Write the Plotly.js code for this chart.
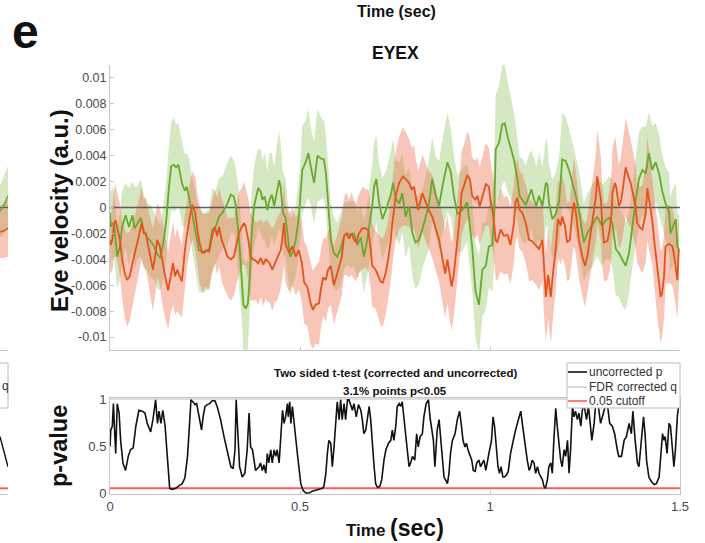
<!DOCTYPE html>
<html><head><meta charset="utf-8">
<script src="https://cdn.plot.ly/plotly-3.0.1.min.js"></script>
<style>html,body{margin:0;padding:0;background:#fff}#chart{width:705px;height:543px}</style>
</head><body><div id="chart"></div>
<script>
// ---------- DATA (velocity values in thousandths of a.u.) ----------
const greenTime = [
0.000,0.002,0.006,0.011,0.019,0.026,0.032,0.041,0.050,0.059,
0.065,0.072,0.081,0.089,0.098,0.107,0.116,0.124,0.133,0.142,
0.148,0.155,0.161,0.168,0.174,0.180,0.186,0.190,0.197,0.202,
0.208,0.215,0.221,0.228,0.234,0.247,0.261,0.269,0.278,0.287,
0.296,0.309,0.318,0.326,0.331,0.339,0.347,0.351,0.357,0.363,
0.368,0.373,0.379,0.385,0.390,0.397,0.401,0.407,0.414,0.420,
0.426,0.432,0.438,0.445,0.449,0.455,0.462,0.468,0.474,0.480,
0.489,0.497,0.502,0.506,0.515,0.522,0.528,0.537,0.546,0.554,
0.563,0.568,0.574,0.581,0.589,0.598,0.607,0.616,0.624,0.633,
0.642,0.651,0.660,0.668,0.674,0.682,0.690,0.695,0.701,0.708,
0.717,0.726,0.739,0.745,0.752,0.761,0.769,0.778,0.787,0.796,
0.804,0.813,0.822,0.831,0.839,0.848,0.857,0.866,0.874,0.888,
0.897,0.905,0.914,0.927,0.940,0.953,0.962,0.971,0.980,0.989,
0.997,1.006,1.011,1.015,1.024,1.032,1.039,1.046,1.054,1.063,
1.072,1.078,1.085,1.094,1.103,1.109,1.116,1.122,1.129,1.138,
1.147,1.151,1.155,1.164,1.173,1.182,1.190,1.199,1.208,1.217,
1.226,1.234,1.247,1.256,1.269,1.282,1.295,1.304,1.313,1.322,
1.331,1.339,1.348,1.357,1.366,1.374,1.383,1.392,1.401,1.410,
1.418,1.427,1.436,1.445,1.453,1.462,1.471,1.475,1.480,1.489,
1.493,1.497];
const greenMean = [
-0.4,-1.5,-1.2,-1.4,-3.8,-3.0,-1.5,-0.6,-1.5,-0.6,
-1.6,-1.2,-0.8,-1.8,-2.3,-2.6,-3.0,-3.6,-3.9,-2.4,
-1.0,1.5,3.2,3.3,3.1,3.3,2.4,1.8,1.3,1.6,
0.8,-0.3,-1.2,-2.4,-3.3,-3.5,-3.2,-1.7,-1.5,-0.7,
-0.4,0.3,1.0,0.85,0.1,-2.2,-5.3,-7.5,-7.8,-7.4,
-5.3,-2.0,0.1,0.85,1.5,1.2,0.6,0.85,-0.2,0.6,
1.0,0.1,1.1,2.1,1.6,-0.4,-0.8,-2.5,-3.8,-3.5,
-2.5,-0.7,1.0,2.9,3.5,4.2,3.2,1.9,4.0,3.8,
3.7,2.7,0.4,-2.5,-3.5,-3.8,-3.2,-2.2,-2.0,-2.1,
-2.0,-2.9,-2.3,-3.8,-3.0,-1.4,0.1,1.6,2.2,0.4,
-0.9,-0.2,1.0,1.9,0.7,0.3,1.1,-0.7,0.1,-2.0,
-2.7,-2.5,-1.7,-0.7,0.2,2.2,0.9,0.1,1.5,3.5,
2.7,0.9,-0.5,-0.2,0.4,-3.0,-6.5,-7.5,-4.8,-4.5,
-3.0,-2.9,-0.5,4.5,5.0,6.4,6.5,5.5,4.7,3.7,
2.2,0.9,0.6,0.2,0.9,1.4,0.6,0.1,0.9,0.1,
1.9,1.8,0.4,-0.9,-0.5,0.5,3.7,3.6,2.9,1.9,
0.9,-0.3,-2.7,-2.0,-1.4,-0.7,-1.4,-1.0,-0.8,-1.2,
-3.2,-3.5,-4.0,-4.5,-3.5,-1.5,0.5,2.2,2.9,2.6,
4.2,2.9,3.5,2.6,1.3,0.3,-0.3,-2.0,-1.6,-0.9,
-3.0,-3.2];
const greenSem = [
2.4,2.6,2.8,2.6,2.4,2.6,2.8,2.5,3.0,2.6,
3.2,2.8,3.0,2.8,2.6,2.8,2.6,2.7,2.5,2.9,
3.0,3.2,3.4,3.6,3.3,3.2,3.0,3.2,2.8,2.6,
3.0,2.8,3.0,2.9,3.2,3.1,3.0,3.2,2.8,3.0,
2.8,3.2,3.0,2.8,3.0,3.3,3.4,3.6,3.5,3.4,
3.3,3.2,3.0,3.2,3.0,3.3,3.0,3.4,3.0,3.6,
3.2,3.0,3.5,3.8,3.4,3.2,3.0,2.8,3.0,2.8,
2.7,2.8,3.0,3.4,3.2,3.4,3.0,3.2,3.6,3.2,
3.0,3.0,2.9,2.8,2.8,2.6,2.8,2.6,2.4,2.6,
2.5,2.6,2.5,2.8,2.7,3.0,3.2,3.5,3.4,3.0,
3.2,3.0,3.3,3.4,3.0,3.2,3.0,3.2,3.0,3.4,
3.6,3.4,3.0,3.2,3.4,3.2,3.0,3.5,3.6,3.8,
3.4,3.2,3.0,3.2,3.0,3.4,3.6,3.8,3.6,3.4,
3.2,3.6,4.0,4.2,4.4,4.6,4.5,4.3,4.0,3.6,
3.2,3.0,3.2,3.0,3.2,3.0,3.2,3.0,3.4,3.0,
3.4,3.2,3.0,3.0,3.2,3.4,3.6,3.4,3.2,3.0,
3.0,3.2,3.0,3.0,3.2,3.0,3.2,3.0,3.2,3.4,
3.6,3.4,3.6,3.4,3.2,3.2,3.4,3.6,3.4,3.6,
3.2,3.4,3.0,3.0,2.8,2.8,3.0,2.8,3.0,2.8,
2.6,2.6];

const orangeTime = [
0.000,0.002,0.006,0.011,0.015,0.019,0.026,0.032,0.039,0.045,
0.052,0.059,0.068,0.076,0.083,0.089,0.094,0.101,0.107,0.113,
0.120,0.124,0.131,0.138,0.147,0.153,0.160,0.166,0.171,0.177,
0.182,0.189,0.193,0.197,0.203,0.210,0.217,0.224,0.230,0.236,
0.243,0.252,0.261,0.269,0.276,0.282,0.287,0.294,0.300,0.309,
0.318,0.326,0.332,0.339,0.347,0.353,0.357,0.364,0.370,0.376,
0.383,0.390,0.397,0.403,0.410,0.414,0.420,0.427,0.434,0.440,
0.449,0.453,0.458,0.462,0.471,0.480,0.489,0.497,0.505,0.511,
0.519,0.528,0.534,0.541,0.550,0.555,0.561,0.568,0.574,0.581,
0.589,0.596,0.603,0.610,0.616,0.622,0.629,0.636,0.642,0.648,
0.655,0.664,0.673,0.680,0.686,0.690,0.699,0.706,0.712,0.718,
0.726,0.732,0.739,0.743,0.747,0.752,0.761,0.771,0.778,0.787,
0.794,0.800,0.804,0.811,0.822,0.831,0.839,0.848,0.857,0.866,
0.874,0.882,0.888,0.894,0.899,0.905,0.910,0.916,0.923,0.925,
0.934,0.940,0.947,0.953,0.961,0.967,0.973,0.980,0.989,0.997,
1.002,1.008,1.011,1.015,1.019,1.028,1.037,1.046,1.054,1.063,
1.067,1.072,1.078,1.085,1.094,1.103,1.111,1.120,1.129,1.138,
1.142,1.147,1.153,1.160,1.166,1.173,1.179,1.186,1.190,1.197,
1.203,1.210,1.217,1.221,1.226,1.234,1.243,1.250,1.256,1.265,
1.274,1.279,1.282,1.287,1.292,1.295,1.300,1.309,1.315,1.320,
1.322,1.329,1.332,1.339,1.344,1.348,1.357,1.364,1.370,1.376,
1.383,1.387,1.396,1.401,1.410,1.414,1.423,1.427,1.432,1.440,
1.449,1.453,1.458,1.462,1.471,1.480,1.485,1.493,1.497];
const orangeMean = [
-2.5,-2.9,-2.5,-1.2,-1.0,-1.5,-2.5,-4.0,-5.1,-5.6,
-5.3,-4.3,-3.3,-2.2,-1.2,-2.0,-2.0,-3.0,-4.0,-4.8,
-3.5,-2.5,-3.0,-4.3,-5.6,-6.4,-5.1,-4.3,-5.3,-4.8,
-5.2,-5.7,-4.6,-3.3,-2.0,-0.7,0.2,-0.4,-1.7,-2.8,
-3.5,-3.3,-3.4,-2.2,-1.5,-2.2,-1.5,-2.5,-3.0,-3.8,
-4.0,-3.8,-3.0,-2.0,-1.5,-1.2,-1.5,-2.5,-3.8,-4.0,
-4.1,-4.3,-3.9,-4.4,-4.0,-4.1,-4.3,-4.8,-4.3,-4.0,
-3.3,-2.5,-1.2,-2.8,-3.5,-3.0,-3.8,-3.3,-4.3,-5.8,
-6.1,-7.4,-7.9,-7.5,-7.4,-6.3,-5.4,-5.6,-4.8,-4.5,
-6.0,-5.3,-4.5,-3.8,-2.2,-2.0,-2.4,-2.0,-2.5,-2.7,
-2.0,-1.6,-1.6,-1.8,-3.2,-4.5,-4.8,-5.3,-5.7,-5.8,
-5.0,-4.0,-2.5,-1.2,-0.2,0.9,1.9,2.4,2.2,1.9,
1.4,1.6,0.9,-0.2,1.1,0.4,-0.2,-0.7,-1.7,-2.5,
-3.8,-5.1,-4.0,-5.3,-6.1,-5.1,-3.8,-2.0,0.1,1.1,
1.9,2.5,2.2,0.9,0.6,0.9,0.1,0.9,1.8,1.6,
0.4,-0.5,-1.2,-2.5,-2.7,-1.7,-2.2,-2.1,-2.9,-1.2,
0.4,0.75,-0.2,-0.4,-1.2,-2.5,-2.6,-2.9,-3.2,-2.5,
-4.8,-6.9,-5.2,-6.9,-5.0,-3.2,-0.9,-1.4,-0.7,-1.4,
-2.7,-2.5,-0.4,0.4,-0.4,-2.5,-3.8,-4.5,-3.8,-2.0,
-0.2,0.9,2.4,1.6,0.6,-1.2,-2.7,-2.6,-1.7,-0.4,
1.1,1.9,1.6,0.1,0.4,1.1,3.1,2.4,1.9,1.1,
0.1,-1.2,-1.6,-1.7,-0.4,1.5,-0.3,-1.0,-2.5,-4.8,
-6.9,-6.6,-5.3,-3.0,-2.8,-3.0,-3.8,-5.6,-3.2];
const orangeSem = [
2.2,2.2,2.4,2.6,2.8,2.6,2.8,3.0,3.4,3.6,
3.4,3.2,3.0,2.8,2.8,2.6,2.8,2.8,3.0,3.2,
3.0,2.8,3.0,3.2,3.2,3.0,3.0,3.2,3.0,3.2,
3.0,2.8,2.8,2.8,2.6,2.6,2.6,2.8,2.8,3.0,
3.0,2.8,3.0,2.8,2.8,3.0,3.0,3.2,3.2,3.0,
3.2,3.0,3.0,3.2,3.0,3.2,3.0,3.2,3.4,3.2,
3.0,3.2,3.0,3.2,3.0,3.2,3.0,3.2,3.0,3.2,
3.0,3.0,3.2,3.0,3.0,3.0,3.0,3.0,3.0,3.2,
3.0,3.2,3.0,3.0,3.2,3.0,3.0,3.2,3.0,3.0,
3.0,3.0,3.0,3.0,3.0,3.2,3.0,3.2,3.0,3.0,
3.0,3.2,3.0,3.2,3.0,3.2,3.0,3.2,3.4,3.4,
3.2,3.0,3.2,3.2,3.4,3.4,3.6,3.8,3.6,3.4,
3.2,3.2,3.0,3.0,3.0,3.0,3.0,3.2,3.2,3.2,
3.4,3.4,3.4,3.4,3.4,3.2,3.2,3.2,3.2,3.2,
3.2,3.4,3.2,3.0,3.0,3.0,3.0,3.0,3.2,3.0,
3.0,3.0,3.0,3.0,3.0,3.2,3.0,3.0,3.0,3.0,
3.0,3.0,3.0,3.0,3.0,3.2,3.0,3.0,3.2,3.2,
3.4,3.4,3.4,3.6,3.4,3.2,3.0,3.0,3.2,3.0,
3.0,3.0,3.2,3.4,3.2,3.0,3.0,3.2,3.0,3.0,
3.2,3.4,3.6,3.4,3.2,3.0,3.0,3.0,3.2,3.2,
3.4,3.6,3.4,3.2,3.4,3.6,3.8,3.6,3.4,3.2,
3.2,3.0,3.2,3.4,3.8,4.0,3.6,3.4,3.4,3.6,
3.6,3.4,3.2,3.0,3.0,3.0,3.0,3.0,3.0];

const pTime = [
0.000,0.002,0.006,0.009,0.012,0.015,0.019,0.024,0.028,0.034,
0.041,0.048,0.054,0.061,0.068,0.076,0.085,0.092,0.098,0.107,
0.113,0.120,0.125,0.129,0.134,0.139,0.145,0.149,0.154,0.157,
0.164,0.173,0.182,0.190,0.197,0.204,0.210,0.213,0.218,0.224,
0.228,0.232,0.236,0.241,0.245,0.250,0.256,0.262,0.269,0.276,
0.282,0.291,0.300,0.309,0.318,0.324,0.329,0.332,0.337,0.341,
0.348,0.355,0.361,0.366,0.370,0.375,0.379,0.383,0.392,0.396,
0.401,0.405,0.410,0.414,0.418,0.423,0.427,0.432,0.436,0.440,
0.445,0.449,0.454,0.458,0.462,0.467,0.469,0.473,0.476,0.480,
0.484,0.489,0.493,0.497,0.502,0.508,0.515,0.524,0.532,0.541,
0.550,0.559,0.563,0.568,0.572,0.576,0.581,0.585,0.589,0.594,
0.598,0.603,0.607,0.611,0.616,0.620,0.625,
0.629,0.638,0.642,0.648,0.654,0.660,0.664,0.668,0.673,0.677,
0.682,0.686,0.690,0.695,0.699,0.704,0.710,0.715,0.721,0.726,
0.733,0.739,0.743,0.747,0.752,0.756,0.761,0.765,0.769,0.774,
0.778,0.782,0.787,0.791,0.796,0.802,0.807,0.811,0.816,0.822,
0.826,0.832,0.838,0.842,0.846,0.851,0.855,0.861,0.866,0.870,
0.875,0.879,0.883,0.888,0.892,0.896,0.901,0.908,0.914,0.920,
0.925,0.929,0.934,0.938,0.942,0.946,0.952,0.956,0.961,0.965,
0.971,0.975,0.980,0.984,0.989,0.993,0.997,1.004,1.008,1.012,
1.017,1.021,1.025,1.029,1.034,1.038,1.043,1.048,1.054,1.059,
1.065,1.072,1.076,1.081,1.085,1.089,1.094,1.098,1.103,1.107,
1.111,1.116,1.120,1.125,1.129,1.133,1.138,1.142,1.146,1.151,
1.155,1.160,1.164,1.168,1.173,1.177,1.182,1.186,1.190,1.195,
1.199,1.204,1.208,1.212,1.217,1.221,1.225,1.230,1.234,1.239,
1.243,1.247,1.254,1.259,1.262,1.268,1.274,1.278,1.283,1.287,
1.291,1.297,1.303,1.309,1.315,1.322,1.328,1.335,1.339,1.346,
1.353,1.359,1.366,1.372,1.376,1.382,1.388,1.392,1.399,1.404,
1.408,1.412,1.418,1.425,1.432,1.438,1.445,1.449,1.454,1.458,
1.461,1.466,1.471,1.475,1.478,1.481,1.484,1.488,1.493,1.497];
const pValue = [
0.49,0.67,0.71,0.95,0.67,0.42,0.95,0.85,0.56,0.32,
0.24,0.39,0.46,0.48,0.71,0.88,0.87,0.85,0.74,0.65,
0.78,0.99,0.74,0.87,0.74,0.88,0.71,0.49,0.14,0.05,
0.04,0.05,0.08,0.10,0.16,0.39,0.78,0.99,0.97,0.94,
0.95,0.87,0.81,0.67,0.81,0.92,0.94,0.95,0.98,0.98,
0.92,0.78,0.60,0.42,0.28,0.26,0.46,0.99,0.49,0.28,
0.17,0.21,0.46,0.85,0.49,0.46,0.35,0.24,0.28,0.32,
0.24,0.30,0.21,0.42,0.32,0.46,0.32,0.46,0.39,0.46,
0.32,0.56,0.88,0.74,0.81,0.95,0.81,0.97,0.74,0.92,
0.74,0.60,0.42,0.28,0.10,0.03,0.00,0.00,0.02,0.03,
0.04,0.05,0.07,0.21,0.42,0.56,0.53,0.28,0.46,0.74,
0.97,0.78,0.99,0.78,0.95,0.78,0.99,
0.99,0.88,0.95,0.81,0.94,0.88,0.78,0.63,0.67,0.78,
0.92,0.78,0.53,0.28,0.10,0.06,0.07,0.14,0.35,0.46,
0.53,0.56,0.67,0.56,0.71,0.92,0.95,0.92,0.97,0.78,
0.60,0.42,0.28,0.32,0.39,0.35,0.63,0.49,0.60,0.63,
0.81,0.95,0.99,0.81,0.67,0.56,0.28,0.67,0.78,0.60,
0.35,0.17,0.14,0.10,0.21,0.42,0.56,0.63,0.78,0.87,
0.71,0.56,0.49,0.53,0.46,0.42,0.35,0.24,0.23,0.32,
0.35,0.28,0.32,0.35,0.24,0.35,0.42,0.56,0.81,0.71,
0.46,0.28,0.21,0.28,0.17,0.17,0.19,0.23,0.42,0.53,
0.63,0.74,0.81,0.87,0.74,0.60,0.46,0.35,0.24,0.28,
0.35,0.32,0.21,0.28,0.21,0.17,0.14,0.07,0.05,0.14,
0.28,0.32,0.21,0.56,0.90,0.71,0.49,0.35,0.28,0.46,
0.39,0.56,0.21,0.46,0.92,0.81,0.87,0.78,0.85,0.71,
0.88,0.95,0.78,0.92,0.81,0.56,0.74,0.94,0.99,0.87,
0.74,0.83,0.92,0.94,0.74,0.71,0.63,0.46,0.39,0.39,
0.56,0.60,0.74,0.63,0.87,0.56,0.32,0.28,0.56,0.81,
0.63,0.35,0.17,0.12,0.09,0.10,0.17,0.39,0.63,0.56,
0.60,0.42,0.74,0.71,0.56,0.49,0.28,0.46,0.81,0.95];

const refTime = [0, 1.5];
const zeroLevel = [0, 0];
const fdrQ = [1, 1];
const cutoff = [0.05, 0.05];

// sliver of the neighbouring panel (cropped at the left edge)
const edgeTime = [1.46, 1.48, 1.5];
const edgeGreenMean = [-0.3, 0.2, 0.9];
const edgeGreenSem = [2.0, 2.2, 2.3];
const edgeOrangeMean = [-1.9, -1.8, -1.6];
const edgeOrangeSem = [2.0, 2.1, 2.2];
const edgeP = [0.6, 0.44, 0.28];
const edgeRefTime = [1.46, 1.5];

const velocityTicks = [0.01,0.008,0.006,0.004,0.002,0,-0.002,-0.004,-0.006,-0.008,-0.01];
const velocityTickText = ['0.01','0.008','0.006','0.004','0.002','0','-0.002','-0.004','-0.006','-0.008','-0.01'];
const timeTicks = [0, 0.5, 1, 1.5];
const timeTickText = ['0','0.5','1','1.5'];
const pTicks = [0, 0.5, 1];
const pTickText = ['0','0.5','1'];
const legendLabels = ['uncorrected p','FDR corrected q','0.05 cutoff'];

// ---------- DRAWING ----------
const W = 705, H = 543;
const fx = p => p / W, fy = p => 1 - p / H;
const FONT = 'Liberation Sans, Arial, Helvetica, sans-serif';
const MILLI = 0.001;
const GREEN = '#6aa82e', GREEN_FILL = 'rgba(125,185,70,0.33)';
const ORANGE = '#e5531c', ORANGE_FILL = 'rgba(236,112,78,0.40)';
const AXIS = '#c6c6c6', TICKFONT = '#4a4a4a';

function band(t, m, s, xa, ya, fill) {
  const up = m.map((v, i) => (v + s[i]) * MILLI);
  const lo = m.map((v, i) => (v - s[i]) * MILLI);
  return {x: t.concat(t.slice().reverse()), y: up.concat(lo.slice().reverse()),
    xaxis: xa, yaxis: ya, type: 'scatter', mode: 'lines', fill: 'toself',
    fillcolor: fill, line: {width: 0}, hoverinfo: 'skip', showlegend: false};
}
function line(t, v, xa, ya, color, width, scale) {
  return {x: t, y: v.map(d => d * (scale || 1)), xaxis: xa, yaxis: ya, type: 'scatter',
    mode: 'lines', line: {color: color, width: width}, hoverinfo: 'skip', showlegend: false};
}

const traces = [
  band(greenTime, greenMean, greenSem, 'x', 'y', GREEN_FILL),
  band(orangeTime, orangeMean, orangeSem, 'x', 'y', ORANGE_FILL),
  line(refTime, zeroLevel, 'x', 'y', 'rgba(70,70,70,0.85)', 1.3),
  line(greenTime, greenMean, 'x', 'y', GREEN, 1.8, MILLI),
  line(orangeTime, orangeMean, 'x', 'y', ORANGE, 1.8, MILLI),

  line(refTime, fdrQ, 'x2', 'y2', '#d2d2d2', 1.5),
  line(refTime, cutoff, 'x2', 'y2', '#ff5c5c', 2),
  line(pTime, pValue, 'x2', 'y2', '#111111', 1.6),

  band(edgeTime, edgeGreenMean, edgeGreenSem, 'x3', 'y3', GREEN_FILL),
  band(edgeTime, edgeOrangeMean, edgeOrangeSem, 'x3', 'y3', ORANGE_FILL),
  line(edgeRefTime, zeroLevel, 'x3', 'y3', 'rgba(70,70,70,0.85)', 1.3),
  line(edgeTime, edgeGreenMean, 'x3', 'y3', GREEN, 1.6, MILLI),
  line(edgeTime, edgeOrangeMean, 'x3', 'y3', ORANGE, 1.6, MILLI),
  line(edgeRefTime, cutoff, 'x4', 'y4', '#ff5c5c', 2),
  line(edgeTime, edgeP, 'x4', 'y4', '#111111', 1.4)
];

const topDomain = [fy(350), fy(65)], botDomain = [fy(494), fy(398)];
const axBase = {showgrid: false, zeroline: false, linecolor: AXIS, linewidth: 1,
  tickcolor: AXIS, ticks: 'inside', ticklen: 4, tickfont: {family: FONT, size: 12.5, color: TICKFONT}};

const legendRows = [372, 387, 401];
const legendColors = ['#111111', '#d2d2d2', '#ff5c5c'];

const shapes = [
  {type: 'rect', xref: 'paper', yref: 'paper', x0: fx(567), x1: fx(680), y0: fy(408), y1: fy(363),
   line: {color: '#bdbdbd', width: 1}, fillcolor: '#ffffff', layer: 'above'},
  {type: 'rect', xref: 'paper', yref: 'paper', x0: fx(-30), x1: fx(8), y0: fy(408), y1: fy(363),
   line: {color: '#bdbdbd', width: 1}, fillcolor: '#ffffff', layer: 'above'}
].concat(legendRows.map((r, i) => ({type: 'line', xref: 'paper', yref: 'paper',
   x0: fx(568), x1: fx(587), y0: fy(r), y1: fy(r), line: {color: legendColors[i], width: 1.6}, layer: 'above'})));

const ann = (text, x, y, size, extra) => Object.assign({text: text, x: x, y: y, xref: 'paper', yref: 'paper',
  showarrow: false, font: {family: FONT, size: size, color: '#111'}, xanchor: 'center', yanchor: 'middle'}, extra || {});

const annotations = [
  ann('<b>e</b>', fx(25), fy(32), 48),
  ann('<b>Time (sec)</b>', fx(396), fy(1), 16, {yanchor: 'top'}),
  ann('<b>EYEX</b>', fx(395), fy(53), 17.5),
  ann('<b>Eye velocity (a.u.)</b>', fx(59), fy(211), 24, {textangle: -90}),
  ann('<b>p-value</b>', fx(59), fy(446), 23.5, {textangle: -90}),
  ann('<b>Two sided t-test (corrected and uncorrected)</b>', fx(395), fy(373), 11.5),
  ann('<b>3.1% points p&lt;0.05</b>', fx(395), fy(391), 11.5),
  ann('<b>Time <span style="font-size:23px">(sec)</span></b>', fx(395), fy(528), 17),
  ann('q', fx(0), fy(386), 12, {xanchor: 'left', font: {family: FONT, size: 12, color: '#333'}})
].concat(legendLabels.map((t, i) => ann(t, fx(587), fy(legendRows[i]), 12,
  {xanchor: 'left', font: {family: FONT, size: 12, color: '#333'}})));

const layout = {
  width: W, height: H, margin: {l: 0, r: 0, t: 0, b: 0},
  paper_bgcolor: '#ffffff', plot_bgcolor: 'rgba(0,0,0,0)', showlegend: false,
  font: {family: FONT},
  xaxis: Object.assign({}, axBase, {domain: [fx(110), fx(680)], anchor: 'y', range: [0, 1.5],
    showline: true, tickvals: timeTicks, showticklabels: false, ticklen: 3}),
  yaxis: Object.assign({}, axBase, {domain: topDomain, anchor: 'x', range: [-0.011, 0.011],
    showline: true, tickvals: velocityTicks, ticktext: velocityTickText}),
  xaxis2: Object.assign({}, axBase, {domain: [fx(110), fx(680)], anchor: 'y2', range: [0, 1.5],
    showline: true, mirror: true, tickvals: timeTicks, ticktext: timeTickText,
    tickfont: {family: FONT, size: 13, color: TICKFONT}, ticklen: 3}),
  yaxis2: Object.assign({}, axBase, {domain: botDomain, anchor: 'x2', range: [-0.01, 1.01],
    showline: true, mirror: true, tickvals: pTicks, ticktext: pTickText,
    tickfont: {family: FONT, size: 13, color: TICKFONT}, ticklen: 3}),
  xaxis3: Object.assign({}, axBase, {domain: [0, fx(8)], anchor: 'y3', range: [1.46, 1.5],
    showline: true, ticks: '', showticklabels: false}),
  yaxis3: {domain: topDomain, anchor: 'x3', range: [-0.011, 0.011], visible: false},
  xaxis4: Object.assign({}, axBase, {domain: [0, fx(8)], anchor: 'y4', range: [1.46, 1.5],
    showline: true, ticks: '', tickvals: [1.5], ticktext: ['1.5'],
    tickfont: {family: FONT, size: 13, color: TICKFONT}}),
  yaxis4: {domain: botDomain, anchor: 'x4', range: [-0.01, 1.01], visible: false},
  shapes: shapes,
  annotations: annotations
};

Plotly.newPlot('chart', traces, layout, {staticPlot: true, displayModeBar: false});
</script></body></html>
